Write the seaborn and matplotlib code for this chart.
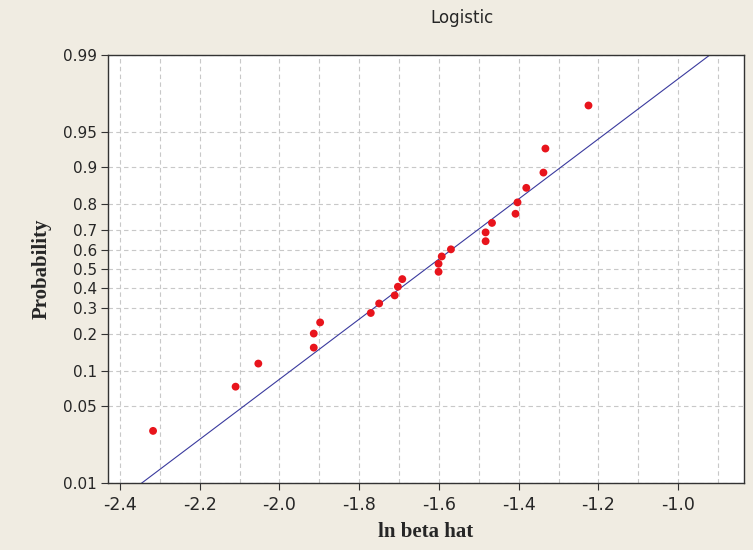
import numpy as np
import pandas as pd
import seaborn as sns
import matplotlib.pyplot as plt
from matplotlib.ticker import FixedLocator, FixedFormatter, MultipleLocator, NullLocator

# datos
ln_beta = [-2.317, -2.110, -2.053, -1.914, -1.914, -1.898, -1.771, -1.750,
           -1.711, -1.703, -1.692, -1.601, -1.601, -1.593, -1.570, -1.483,
           -1.483, -1.467, -1.408, -1.403, -1.381, -1.338, -1.333, -1.225]
prob = [0.030, 0.074, 0.116, 0.156, 0.200, 0.241, 0.280, 0.323,
        0.362, 0.406, 0.446, 0.485, 0.528, 0.567, 0.604, 0.645,
        0.687, 0.729, 0.766, 0.807, 0.851, 0.888, 0.930, 0.971]

# parametros de la recta ajustada (logistica)
loc_fit = -1.633
scale_fit = 0.1550
line_x = [-2.5, -0.8]

y_ticks = [0.01, 0.05, 0.1, 0.2, 0.3, 0.4, 0.5, 0.6, 0.7, 0.8, 0.9, 0.95, 0.99]
y_labels = ['0.01', '0.05', '0.1', '0.2', '0.3', '0.4', '0.5', '0.6', '0.7', '0.8', '0.9', '0.95', '0.99']
x_ticks = [-2.4, -2.2, -2.0, -1.8, -1.6, -1.4, -1.2, -1.0]

df = pd.DataFrame({'x': ln_beta, 'p': prob})
lx = np.array(line_x)
fit = pd.DataFrame({'x': lx, 'p': 1 / (1 + np.exp(-(lx - loc_fit) / scale_fit))})

sns.set_style('white')
plt.rcParams['font.family'] = ['DejaVu Sans']

fig = plt.figure(figsize=(7.53, 5.5), dpi=100)
fig.patch.set_facecolor('#F0ECE2')
ax = fig.add_axes([108 / 753, 1 - 483 / 550, (744 - 108) / 753, (483 - 55) / 550])
ax.set_facecolor('white')

sns.lineplot(data=fit, x='x', y='p', ax=ax, color='#3A3A9E', lw=0.8, sort=False, zorder=2)
sns.scatterplot(data=df, x='x', y='p', ax=ax, color='#E8141C', s=32, edgecolor='none', zorder=3)

ax.set_yscale('logit')
ax.set_ylim(0.01, 0.99)
ax.set_xlim(-2.43, -0.835)
ax.yaxis.set_major_locator(FixedLocator(y_ticks))
ax.yaxis.set_major_formatter(FixedFormatter(y_labels))
ax.yaxis.set_minor_locator(NullLocator())
ax.xaxis.set_major_locator(FixedLocator(x_ticks))
ax.xaxis.set_major_formatter(FixedFormatter(['%.1f' % v for v in x_ticks]))
ax.xaxis.set_minor_locator(MultipleLocator(0.1))

ax.grid(True, which='major', axis='y', color='#C8C8C8', ls=(0, (4, 3)), lw=0.8)
ax.grid(True, which='both', axis='x', color='#C8C8C8', ls=(0, (4, 3)), lw=0.8)
ax.set_axisbelow(True)

ax.tick_params(axis='x', which='major', direction='out', length=5, width=0.8, color='#333333', labelsize=12.5, pad=4, bottom=True)
ax.tick_params(axis='x', which='minor', length=0)
ax.tick_params(axis='y', which='major', direction='out', length=5, width=0.8, color='#333333', labelsize=11, pad=3, left=True)
for sp in ax.spines.values():
    sp.set_color('#333333')
    sp.set_linewidth(1.0)

ax.set_xlabel('ln beta hat', family='Liberation Serif', fontweight='bold', fontsize=15, labelpad=6)
ax.set_ylabel('Probability', family='Liberation Serif', fontweight='bold', fontsize=15, labelpad=8)
fig.text(462 / 753, 1 - 18 / 550, 'Logistic', ha='center', va='center', fontsize=12)

fig.savefig('out.png', dpi=100, facecolor=fig.get_facecolor())
